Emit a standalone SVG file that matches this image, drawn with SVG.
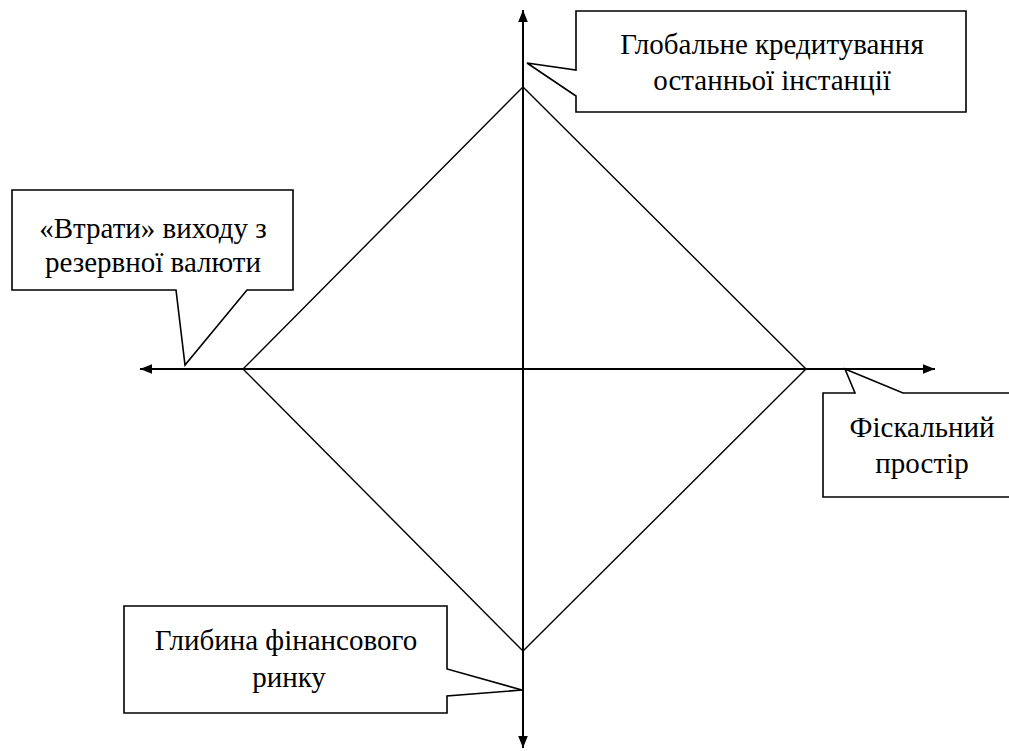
<svg xmlns="http://www.w3.org/2000/svg" width="1009" height="751" viewBox="0 0 1009 751">
<style>
.ax{stroke:#000;stroke-width:2;fill:none}
.dm{stroke:#000;stroke-width:1.4;fill:none}
.cb{stroke:#000;stroke-width:1.6;fill:#fff;stroke-linejoin:miter}
.t{font-family:'Liberation Serif','Times New Roman',serif;font-size:29px;fill:#000;text-anchor:middle}
</style>
<defs>
<marker id="ah" viewBox="0 0 10 10" refX="10" refY="5" markerWidth="6" markerHeight="6" orient="auto" markerUnits="strokeWidth">
<path d="M0,1 L10,5 L0,9 Z" fill="#000"/>
</marker>
</defs>
<rect width="1009" height="751" fill="#fff"/>
<g id="connectors">
<line class="ax" x1="523" y1="700" x2="523" y2="10" marker-end="url(#ah)"/>
<line class="ax" x1="523" y1="60" x2="523" y2="748" marker-end="url(#ah)"/>
<line class="ax" x1="500" y1="369" x2="140" y2="369" marker-end="url(#ah)"/>
<line class="ax" x1="500" y1="369" x2="935" y2="369" marker-end="url(#ah)"/>
<polygon class="dm" points="523,87 806,369 523,651 243,369"/>
</g>
<g id="node-top">
<path class="cb" d="M576,11 H966 V112 H576 V96 L527,63 L576,70 Z"/>
<text class="t" x="772" y="54">Глобальне кредитування</text>
<text class="t" x="772" y="90">останньої інстанції</text>
</g>
<g id="node-left">
<path class="cb" d="M12,190 H293 V290 H247 L185,365 L176,290 H12 Z"/>
<text class="t" x="153" y="238">«Втрати» виходу з</text>
<text class="t" x="153" y="272">резервної валюти</text>
</g>
<g id="node-right">
<path class="cb" d="M823,393 H855 L845,369 L903,393 H1012 V497 H823 Z"/>
<text class="t" x="922" y="437">Фіскальний</text>
<text class="t" x="922" y="473">простір</text>
</g>
<g id="node-bottom">
<path class="cb" d="M124,606 H447 V669 L522,690 L447,696 V713 H124 Z"/>
<text class="t" x="286" y="650">Глибина фінансового</text>
<text class="t" x="289" y="687">ринку</text>
</g>
</svg>
